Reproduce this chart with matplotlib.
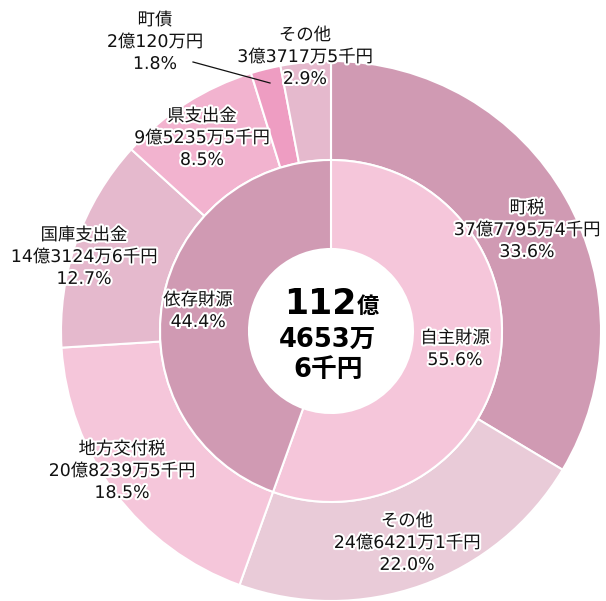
import matplotlib
matplotlib.use('Agg')
import matplotlib.pyplot as plt
import matplotlib.patheffects as pe

# wide latin digits from DejaVu, kanji/kana from Noto CJK
plt.rcParams['font.family'] = ['DejaVu Sans', 'Noto Sans CJK JP']

# ── data (千円) ───────────────────────────────────────────
outer_names  = ['町税', 'その他', '地方交付税', '国庫支出金', '県支出金', '町債', 'その他']
outer_values = [3777954, 2464211, 2082395, 1431246, 952355, 201200, 337175]
outer_amount = ['37億7795万4千円', '24億6421万1千円', '20億8239万5千円',
                '14億3124万6千円', '9億5235万5千円', '2億120万円', '3億3717万5千円']
outer_pct    = ['33.6%', '22.0%', '18.5%', '12.7%', '8.5%', '1.8%', '2.9%']
outer_colors = ['#D09AB3', '#E9CBD8', '#F5C6DA', '#E5B9CD', '#F2B3CF', '#EE9DC2', '#E5B9CD']

inner_names  = ['自主財源', '依存財源']
inner_values = [outer_values[0] + outer_values[1], sum(outer_values[2:])]
inner_pct    = ['55.6%', '44.4%']
inner_colors = ['#F5C6DA', '#D09AB3']

# label positions in pixel coords (top-left origin)
outer_pos = [(527, 230), (407, 543), (122, 471), (84, 257), (202, 138), (155, 42), (305, 57)]
inner_pos = [(455, 349), (198, 311)]

W, H = 606, 601
CX, CY = 331, 331
R_OUT, R_MID, R_IN = 270, 171, 82

fig = plt.figure(figsize=(W / 100, H / 100), dpi=100)
ax = fig.add_axes([0, 0, 1, 1])

wedge = dict(edgecolor='white', linewidth=1.5)
ax.pie(outer_values, colors=outer_colors, startangle=90, counterclock=False,
       radius=R_OUT, center=(CX, H - CY), frame=True,
       wedgeprops=dict(width=R_OUT - R_MID, **wedge))
ax.pie(inner_values, colors=inner_colors, startangle=90, counterclock=False,
       radius=R_MID, center=(CX, H - CY), frame=True,
       wedgeprops=dict(width=R_MID - R_IN, **wedge))
ax.set_xlim(0, W)
ax.set_ylim(0, H)
ax.axis('off')

stroke = [pe.withStroke(linewidth=3, foreground='white')]

for name, amt, pct, (x, y) in zip(outer_names, outer_amount, outer_pct, outer_pos):
    ax.text(x, H - y, f'{name}\n{amt}\n{pct}', ha='center', va='center',
            fontsize=12.5, linespacing=1.28, color='#111111', path_effects=stroke)

for name, pct, (x, y) in zip(inner_names, inner_pct, inner_pos):
    ax.text(x, H - y, f'{name}\n{pct}', ha='center', va='center',
            fontsize=12.5, linespacing=1.28, color='#111111', path_effects=stroke)

# leader line for 町債
ax.plot([193, 270], [H - 62, H - 83], color='#111111', lw=0.9)

# total in the centre
ax.text(357, H - 304, '112', ha='right', va='center', fontsize=25, fontweight='bold')
ax.text(357, H - 307, '億', ha='left', va='center', fontsize=16, fontweight='bold')
ax.text(328, H - 340, '4653万', ha='center', va='center', fontsize=18.5, fontweight='bold')
ax.text(328, H - 370, '6千円', ha='center', va='center', fontsize=18.5, fontweight='bold')

fig.savefig('out.png', dpi=100, facecolor='white')
